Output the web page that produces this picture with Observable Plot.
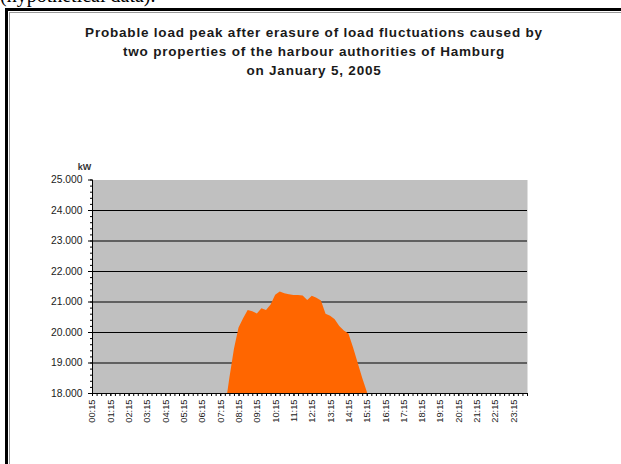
<!DOCTYPE html>
<html>
<head>
<meta charset="utf-8">
<script src="https://cdn.jsdelivr.net/npm/d3@7"></script>
<script src="https://cdn.jsdelivr.net/npm/@observablehq/plot@0.6"></script>
<style>
  html, body { margin: 0; padding: 0; background: #fff; overflow: hidden; }
  body { width: 621px; height: 464px; position: relative; }
  .note { position: absolute; left: 0; top: -16px; font: 20px "Liberation Serif", "Times New Roman", serif; color: #000; white-space: nowrap; }
  .outer { position: absolute; left: 5px; top: 8px; width: 700px; height: 600px; border-left: 3px solid #000; border-top: 3px solid #000; }
  .inner { position: absolute; left: 9px; top: 12px; width: 700px; height: 600px; border-left: 1px solid #999; border-top: 1px solid #999; }
  .title { position: absolute; left: 0; width: 628px; top: 24px; text-align: center; font: bold 13.5px "Liberation Sans", Arial, sans-serif; letter-spacing: 0.8px; line-height: 18.8px; color: #1a1a1a; }
  #chart { position: absolute; left: 0; top: 150px; }
</style>
</head>
<body>
<div class="note">(hypothetical data).</div>
<div class="outer"></div>
<div class="inner"></div>
<div class="title">Probable load peak after erasure of load fluctuations caused by<br>two properties of the harbour authorities of Hamburg<br>on January 5, 2005</div>
<div id="chart"></div>
<script>
// Quarter-hour categories of the day: 00:15, 00:30, ... 24:00
const quarterHours = [];
for (let h = 0; h < 24; h++) {
  for (const m of [15, 30, 45]) quarterHours.push(`${String(h).padStart(2, "0")}:${m}`);
  quarterHours.push(`${String(h + 1).padStart(2, "0")}:00`);
}

// Axis tick labels
const xTickLabels = ["00:15", "01:15", "02:15", "03:15", "04:15", "05:15", "06:15", "07:15",
  "08:15", "09:15", "10:15", "11:15", "12:15", "13:15", "14:15", "15:15",
  "16:15", "17:15", "18:15", "19:15", "20:15", "21:15", "22:15", "23:15"];
const yTickValues = [18000, 19000, 20000, 21000, 22000, 23000, 24000, 25000];
const yTickLabels = ["18.000", "19.000", "20.000", "21.000", "22.000", "23.000", "24.000", "25.000"];

// Probable load (kW) per quarter hour; outside this window the load stays below 18.000 kW
const loadTimes = ["07:30", "07:45", "08:00", "08:15", "08:30", "08:45", "09:00", "09:15",
  "09:30", "09:45", "10:00", "10:15", "10:30", "10:45", "11:00", "11:15",
  "11:30", "11:45", "12:00", "12:15", "12:30", "12:45", "13:00", "13:15",
  "13:30", "13:45", "14:00", "14:15", "14:30", "14:45", "15:00", "15:15", "15:30"];
const loadKW = [17450, 18500, 19450, 20150, 20450, 20720, 20680, 20610,
  20780, 20720, 20900, 21220, 21330, 21270, 21240, 21210,
  21210, 21200, 21050, 21190, 21120, 21030, 20600, 20530,
  20420, 20200, 20050, 19950, 19500, 19000, 18500, 18050, 17500];

const data = loadTimes.map((t, k) => ({i: quarterHours.indexOf(t), kw: loadKW[k]}));
const xTicks = xTickLabels.map(l => quarterHours.indexOf(l));
const font = `"Liberation Sans", Arial, sans-serif`;

const chart = Plot.plot({
  width: 621,
  height: 314,
  marginLeft: 92,
  marginRight: 94,
  marginTop: 29.5,
  marginBottom: 71,
  style: {fontFamily: font, fontSize: "9.5px", color: "#1a1a1a", background: "transparent"},
  x: {type: "linear", domain: [0, quarterHours.length - 1]},
  y: {domain: [18000, 25000]},
  marks: [
    Plot.frame({fill: "#c0c0c0", stroke: null}),
    Plot.ruleY(yTickValues.slice(1, -1), {stroke: "#000", strokeWidth: 1}),
    Plot.areaY(data, {x: "i", y: "kw", fill: "#ff6600", clip: true}),
    // minor y ticks every 200 kW
    Plot.axisY({ticks: d3.range(18000, 25001, 200), tickSize: 2, tickFormat: () => "", label: null, stroke: "#000"}),
    Plot.axisY({ticks: yTickValues, tickSize: 4, tickPadding: 6, tickFormat: (d) => yTickLabels[yTickValues.indexOf(d)], label: null, stroke: "#000", fontSize: "10.3px"}),
    // a tick for every quarter hour, labels every hour
    Plot.axisX({ticks: d3.range(quarterHours.length), tickSize: 3, tickFormat: () => "", label: null, stroke: "#000"}),
    Plot.axisX({ticks: xTicks, tickSize: 3, tickPadding: 3, tickRotate: -90, tickFormat: (d) => quarterHours[d], label: null, stroke: "#000", fontSize: "9.3px"}),
    Plot.ruleX([0], {stroke: "#000"}),
    Plot.ruleY([18000], {stroke: "#000"}),
    Plot.text(["kW"], {frameAnchor: "top-left", textAnchor: "middle", dx: -8, dy: -16, fontSize: 9, fontWeight: "bold", fill: "#333"})
  ]
});
document.getElementById("chart").appendChild(chart);
</script>
</body>
</html>
